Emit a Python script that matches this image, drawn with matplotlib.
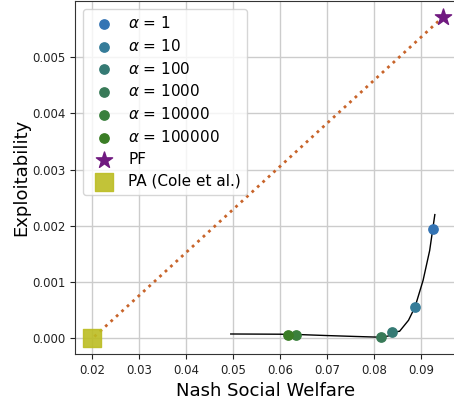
import matplotlib.pyplot as plt
import numpy as np

# scatter points for each alpha
alphas = ['1', '10', '100', '1000', '10000', '100000']
nsw = [0.0926, 0.0887, 0.0838, 0.0815, 0.0633, 0.0617]
expl = [0.00195, 0.000556, 0.000112, 0.00002, 0.000066, 0.00005]
colors = ['#3474b4', '#357c99', '#357a74', '#387a58', '#3a803d', '#3a7d25']

# black frontier curve
curve_x = [0.0495, 0.0550, 0.0600, 0.0640, 0.0700, 0.0760, 0.0800, 0.0815, 0.0830,
           0.0840, 0.0854, 0.0873, 0.0887, 0.0904, 0.0918, 0.0929]
curve_y = [0.000076, 0.000074, 0.000072, 0.000066, 0.000048, 0.000032, 0.000022, 0.00002,
           0.00004, 0.00011, 0.000124, 0.00032, 0.00056, 0.00103, 0.00156, 0.0022]

pf = (0.0947, 0.00572)
pa = (0.0200, 0.0)
line_start = (0.0205, 0.00003)

fig = plt.figure(figsize=(4.54, 4.0), dpi=100)
ax = fig.add_axes([75/454, 46/400, 381/454, 353/400])

ax.plot(curve_x, curve_y, color='black', lw=1.0, zorder=2)
ax.plot([line_start[0], pf[0]], [line_start[1], pf[1]], color='#c8642a', ls=':', lw=2.0, zorder=2)

for a, x, y, c in zip(alphas, nsw, expl, colors):
    ax.scatter(x, y, color=c, s=45, zorder=3, label=r'$\alpha$ = ' + a)

ax.scatter(*pf, marker='*', color='#701a80', s=150, zorder=4, label='PF')
ax.scatter(*pa, marker='s', color='#bcbd22', alpha=0.9, s=150, zorder=3, label='PA (Cole et al.)')

ax.set_xlim(0.01638, 0.0974)
ax.set_ylim(-0.00028, 0.0060)
ax.set_xticks([0.02, 0.03, 0.04, 0.05, 0.06, 0.07, 0.08, 0.09])
ax.set_yticks([0.000, 0.001, 0.002, 0.003, 0.004, 0.005])
ax.set_yticklabels(['0.000', '0.001', '0.002', '0.003', '0.004', '0.005'])
ax.tick_params(labelsize=8.5, colors='#222222')
ax.grid(True, color='#cccccc', lw=1)
ax.set_axisbelow(True)
for s in ax.spines.values():
    s.set_color('#333333')

ax.set_xlabel('Nash Social Welfare', fontsize=13)
ax.set_ylabel('Exploitability', fontsize=13, labelpad=1)
ax.legend(loc='upper left', fontsize=11, labelspacing=0.45, borderaxespad=0.5,
          handletextpad=0.6, scatterpoints=1)

plt.savefig('out.png', dpi=100)
